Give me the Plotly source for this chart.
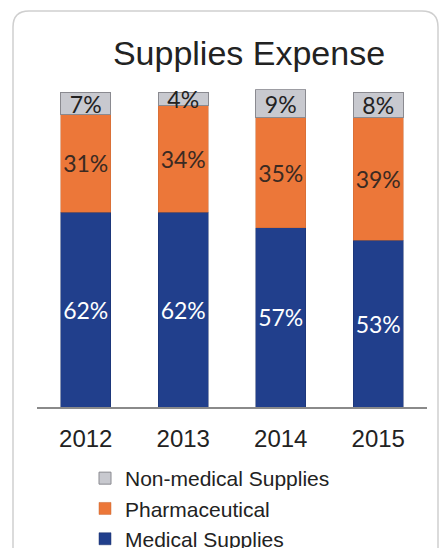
import plotly.graph_objects as go

years = ["2012", "2013", "2014", "2015"]
medical = [62, 62, 57, 53]
pharma = [31, 34, 35, 39]
nonmed = [7, 4, 9, 8]

W, H = 442, 548
def px(x):
    return x / W
def py(y):
    return 1 - y / H

fig = go.Figure()
common = dict(textposition="inside", insidetextanchor="middle", constraintext="none",
              textangle=0, texttemplate="%{y}%", cliponaxis=False, hoverinfo="skip")
fig.add_bar(x=years, y=medical, name="Medical Supplies",
            marker=dict(color="#213f8c", line=dict(color="#1a2f6a", width=0.5)),
            textfont=dict(family="Lato", size=23, color="white"), **common)
fig.add_bar(x=years, y=pharma, name="Pharmaceutical",
            marker=dict(color="#ec7739", line=dict(color="#c86a36", width=0.5)),
            textfont=dict(family="Lato", size=23, color="#3a2a22"), **common)
fig.add_bar(x=years, y=nonmed, name="Non-medical Supplies",
            marker=dict(color="#c8c9cf", line=dict(color="#8a8a90", width=1)),
            textfont=dict(family="Lato", size=23, color="#222222"), **common)

# rounded frame
x0, x1, yt, r = 13, 438, 11, 16
path = (f"M {px(x0)},{-0.1} L {px(x0)},{py(yt + r)} Q {px(x0)},{py(yt)} {px(x0 + r)},{py(yt)} "
        f"L {px(x1 - r)},{py(yt)} Q {px(x1)},{py(yt)} {px(x1)},{py(yt + r)} L {px(x1)},{-0.1}")
fig.add_shape(type="path", path=path, xref="paper", yref="paper",
              line=dict(color="#cfcfcf", width=1.5), layer="below")

top_px = 407 - 101 * (407 - 92.5) / 100

fig.update_layout(
    width=W, height=H,
    margin=dict(l=0, r=0, t=0, b=0, autoexpand=False),
    paper_bgcolor="white", plot_bgcolor="white",
    barmode="stack", bargap=0.49,
    title=dict(text="Supplies Expense", x=px(249), xanchor="center", y=py(53), yanchor="middle",
               xref="paper", yref="container",
               font=dict(family="Liberation Sans", size=34, color="#222222")),
    xaxis=dict(domain=[px(37), px(427)], range=[-0.5, 3.5], showgrid=False, showline=True,
               linecolor="#8a8a8a", linewidth=1.5, ticks="", automargin=False,
               tickfont=dict(family="Liberation Sans", size=24, color="#222222"),
               ticklabelstandoff=9),
    yaxis=dict(domain=[py(407), py(top_px)], range=[0, 101], visible=False, automargin=False),
    legend=dict(x=px(85), xanchor="left", y=py(458), yanchor="top", traceorder="reversed",
                font=dict(family="Liberation Sans", size=21, color="#222222"),
                itemwidth=30, bgcolor="rgba(0,0,0,0)", tracegroupgap=0),
    showlegend=True,
)

fig.write_html("out.html")
